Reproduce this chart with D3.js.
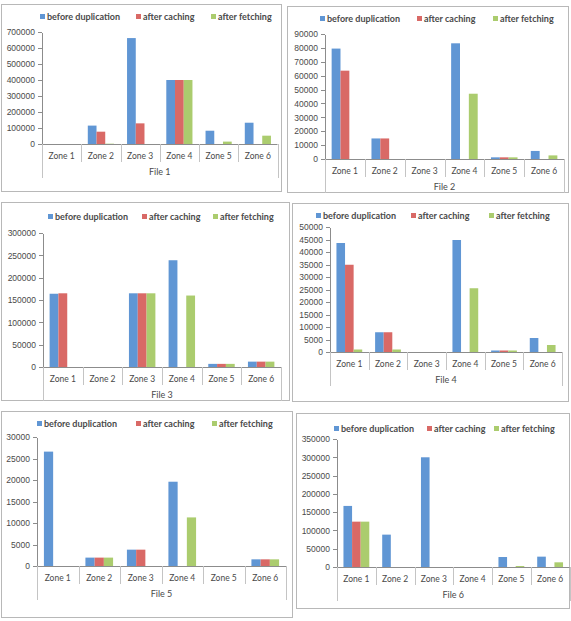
<!DOCTYPE html>
<html lang="en">
<head>
    <meta charset="UTF-8">
    <title>Zones by file</title>
</head>
<style>
    body { margin: 0; background: #fff; }
    svg { display: block; font-family: Lato, "Open Sans", sans-serif; }
    .frame { fill: #fff; stroke: #b8b8b8; stroke-width: 1px; }
    .axis path, .axis line { stroke: #8c8c8c; shape-rendering: crispEdges; }
    .axis text { fill: #4a4a4a; font-size: 8.5px; }
    .legend text { fill: #4a4a4a; font-size: 9px; font-weight: bold; }
    .zone { fill: #4a4a4a; font-size: 8.5px; }
    .file { fill: #4a4a4a; font-size: 9px; }
</style>
<body>
<svg width="571" height="621"></svg>
<script src="https://cdnjs.cloudflare.com/ajax/libs/d3/7.8.5/d3.min.js"></script>
<script>
    // categories and series
    var zones = ["Zone 1", "Zone 2", "Zone 3", "Zone 4", "Zone 5", "Zone 6"];
    var seriesNames = ["before duplication", "after caching", "after fetching"];
    var fileNames = ["File 1", "File 2", "File 3", "File 4", "File 5", "File 6"];

    // values: [before duplication, after caching, after fetching] per zone
    var file1 = [
        [0, 115000, 662000, 400000, 83000, 133000],
        [0, 77000, 129000, 400000, 0, 0],
        [0, 2000, 0, 400000, 15000, 52000]
    ];
    var file2 = [
        [79500, 14800, 0, 83300, 1200, 5800],
        [63600, 14800, 0, 0, 1200, 0],
        [0, 0, 0, 47000, 1200, 2600]
    ];
    var file3 = [
        [164000, 0, 165000, 239000, 7000, 12000],
        [165000, 0, 165000, 0, 7000, 12000],
        [0, 0, 165000, 160000, 7000, 12000]
    ];
    var file4 = [
        [43600, 7900, 0, 44800, 600, 5600],
        [34900, 7900, 0, 0, 600, 0],
        [1000, 1000, 0, 25500, 600, 2800]
    ];
    var file5 = [
        [26600, 1950, 3800, 19600, 0, 1550],
        [0, 1950, 3800, 0, 0, 1550],
        [0, 1950, 0, 11300, 0, 1550]
    ];
    var file6 = [
        [167000, 88500, 300000, 0, 27300, 28300],
        [124000, 0, 0, 0, 0, 0],
        [124000, 0, 0, 0, 2700, 12800]
    ];
    var files = [file1, file2, file3, file4, file5, file6];

    // y axis tick settings per file
    var yMax = [700000, 90000, 300000, 50000, 30000, 350000];
    var yStep = [100000, 10000, 50000, 5000, 5000, 50000];

    var colors = ["#6096d4", "#d96966", "#abcc6e"];

    // where each small chart sits on the page
    var layout = [
        {box: [1, 4, 281, 191], left: 42, right: 277.5, top: 32, base: 144, legY: 17, legX: [40, 136, 211]},
        {box: [287, 6, 568, 192], left: 325, right: 564, top: 34, base: 159, legY: 19, legX: [320, 417, 493]},
        {box: [1, 202, 289, 400], left: 43, right: 281, top: 233, base: 367, legY: 217, legX: [48, 142, 213]},
        {box: [292, 203, 568, 401], left: 330, right: 562, top: 227, base: 352, legY: 216, legX: [316, 411, 489]},
        {box: [1, 411, 292, 617], left: 37, right: 286, top: 437, base: 566, legY: 424, legX: [37, 136, 212]},
        {box: [296, 413, 569, 608], left: 337, right: 569.5, top: 439, base: 567, legY: 429, legX: [334, 427, 494]}
    ];

    var svg = d3.select("svg");

    files.forEach(function (vals, i) {
        var L = layout[i];
        var g = svg.append("g");

        g.append("rect")
            .attr("class", "frame")
            .attr("x", L.box[0] + 0.5)
            .attr("y", L.box[1] + 0.5)
            .attr("width", L.box[2] - L.box[0])
            .attr("height", L.box[3] - L.box[1]);

        var x0 = d3.scaleBand().domain(zones).range([L.left, L.right]);
        var cw = x0.bandwidth();
        // excel style: gap width 150% of a bar
        var x1 = d3.scaleBand().domain(d3.range(seriesNames.length)).range([cw / 6, cw * 5 / 6]);
        var y = d3.scaleLinear().domain([0, yMax[i]]).range([L.base, L.top]);

        // bars
        vals.forEach(function (series, s) {
            g.selectAll(null)
                .data(series)
                .enter().append("rect")
                .attr("x", function (d, k) { return x0(zones[k]) + x1(s); })
                .attr("y", function (d) { return y(d); })
                .attr("width", x1.bandwidth())
                .attr("height", function (d) { return L.base - y(d); })
                .attr("fill", colors[s]);
        });

        // y axis
        g.append("g")
            .attr("class", "axis")
            .attr("transform", "translate(" + Math.round(L.left) + ",0)")
            .call(d3.axisLeft(y)
                .tickValues(d3.range(0, yMax[i] + 1, yStep[i]))
                .tickSize(4).tickSizeOuter(0).tickPadding(3)
                .tickFormat(d3.format("d")));

        // x axis line
        g.append("line")
            .attr("x1", L.left).attr("x2", L.right)
            .attr("y1", L.base + 0.5).attr("y2", L.base + 0.5)
            .attr("stroke", "#8c8c8c");

        // separators between zones
        var seps = zones.slice(1).map(function (z) { return x0(z); });
        g.selectAll(null)
            .data(seps)
            .enter().append("line")
            .attr("x1", function (d) { return Math.round(d) + 0.5; })
            .attr("x2", function (d) { return Math.round(d) + 0.5; })
            .attr("y1", L.base).attr("y2", L.base + 18)
            .attr("stroke", "#c4c4c4");

        // outer lines of the grouped category axis
        g.selectAll(null)
            .data([L.left, L.right])
            .enter().append("line")
            .attr("x1", function (d) { return Math.round(d) + 0.5; })
            .attr("x2", function (d) { return Math.round(d) + 0.5; })
            .attr("y1", L.base).attr("y2", L.base + 34)
            .attr("stroke", "#c4c4c4");

        g.selectAll(null)
            .data(zones)
            .enter().append("text")
            .attr("class", "zone")
            .attr("x", function (d) { return x0(d) + cw / 2; })
            .attr("y", L.base + 12)
            .attr("dy", "0.35em")
            .attr("text-anchor", "middle")
            .text(function (d) { return d; });

        g.append("text")
            .attr("class", "file")
            .attr("x", (L.left + L.right) / 2)
            .attr("y", L.base + 28)
            .attr("dy", "0.35em")
            .attr("text-anchor", "middle")
            .text(fileNames[i]);

        // legend
        var leg = g.append("g").attr("class", "legend");
        seriesNames.forEach(function (name, s) {
            leg.append("rect")
                .attr("x", L.legX[s]).attr("y", L.legY - 3)
                .attr("width", 5).attr("height", 5)
                .attr("fill", colors[s]);
            leg.append("text")
                .attr("x", L.legX[s] + 7)
                .attr("y", L.legY)
                .attr("dy", "0.35em")
                .text(name);
        });
    });
</script>
</body>
</html>
